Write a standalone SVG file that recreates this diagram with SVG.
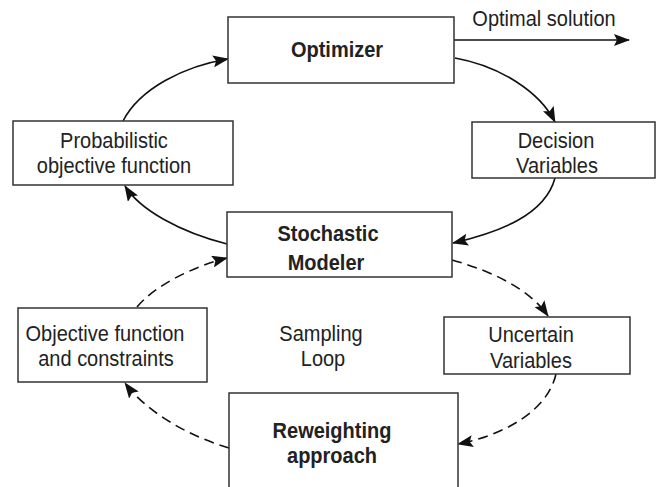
<svg xmlns="http://www.w3.org/2000/svg" width="656" height="487" viewBox="0 0 656 487">
<defs>
<marker id="ah" markerUnits="userSpaceOnUse" markerWidth="16" markerHeight="12" refX="15" refY="6" orient="auto">
<path d="M0,0 L16,6 L0,12 L3,6 Z" fill="#111"/>
</marker>
<style>
.box{fill:#fff;stroke:#333;stroke-width:1.5}
.t{font-family:"Liberation Sans",Arial,sans-serif;font-size:20px;fill:#222;text-anchor:middle}
.b{font-weight:bold}
.c{fill:none;stroke:#111;stroke-width:1.6;marker-end:url(#ah)}
.d{stroke-dasharray:10 6}
</style>
</defs>
<rect width="656" height="487" fill="#fff"/>
<g id="connectors">
<path class="c" d="M123,121 C140,88 185,66 228,59"/>
<path class="c" d="M455,58 C500,66 540,92 555,122"/>
<path class="c" d="M555,178 C545,215 500,232 453,243"/>
<path class="c" d="M227,244 C180,232 140,210 125,186"/>
<path class="c" d="M454,40 L629,40"/>
<path class="c d" d="M137,307 C155,285 195,266 227,258"/>
<path class="c d" d="M452,260 C495,272 530,290 548,316"/>
<path class="c d" d="M556,374 C548,410 505,435 458,444"/>
<path class="c d" d="M229,448 C185,435 145,410 125,383"/>
</g>
<g id="optimizer">
<rect class="box" x="228" y="17" width="226" height="66"/>
<text class="t b" transform="translate(337,57) scale(1,1.12)">Optimizer</text>
</g>
<text class="t" transform="translate(544,26) scale(1,1.12)">Optimal solution</text>
<g id="probabilistic">
<rect class="box" x="13" y="121" width="220" height="64"/>
<text class="t" transform="translate(114,148) scale(1,1.12)">Probabilistic</text>
<text class="t" transform="translate(114,173) scale(1,1.12)">objective function</text>
</g>
<g id="decision">
<rect class="box" x="472" y="122" width="183" height="56"/>
<text class="t" transform="translate(556,148) scale(1,1.12)">Decision</text>
<text class="t" transform="translate(557,173) scale(1,1.12)">Variables</text>
</g>
<g id="stochastic">
<rect class="box" x="227" y="212" width="225" height="65"/>
<text class="t b" transform="translate(328,241) scale(1,1.12)">Stochastic</text>
<text class="t b" transform="translate(326,270) scale(1,1.12)">Modeler</text>
</g>
<g id="objective">
<rect class="box" x="18" y="308" width="189" height="74"/>
<text class="t" transform="translate(105,341) scale(1,1.12)">Objective function</text>
<text class="t" transform="translate(106,366) scale(1,1.12)">and constraints</text>
</g>
<g id="uncertain">
<rect class="box" x="444" y="317" width="186" height="57"/>
<text class="t" transform="translate(531,342) scale(1,1.12)">Uncertain</text>
<text class="t" transform="translate(531,368) scale(1,1.12)">Variables</text>
</g>
<g id="reweighting">
<rect class="box" x="229" y="393" width="229" height="110"/>
<text class="t b" transform="translate(332,438) scale(1,1.12)">Reweighting</text>
<text class="t b" transform="translate(332,463) scale(1,1.12)">approach</text>
</g>
<g id="sampling">
<text class="t" transform="translate(321,341) scale(1,1.12)">Sampling</text>
<text class="t" transform="translate(323,366) scale(1,1.12)">Loop</text>
</g>
</svg>
